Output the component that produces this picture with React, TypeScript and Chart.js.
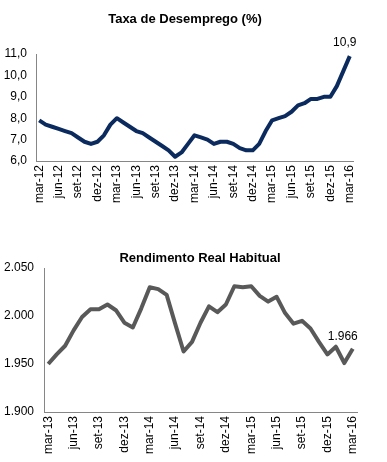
import React, { useEffect, useRef } from "react";
import { Chart, registerables } from "chart.js";

Chart.register(...registerables);

const FONT = '"Liberation Sans", Arial, Helvetica, sans-serif';

// ---- Taxa de Desemprego (%) ----
const desempregoMeses = [
  "mar-12", "abr-12", "mai-12", "jun-12", "jul-12", "ago-12", "set-12", "out-12", "nov-12", "dez-12",
  "jan-13", "fev-13", "mar-13", "abr-13", "mai-13", "jun-13", "jul-13", "ago-13", "set-13", "out-13",
  "nov-13", "dez-13", "jan-14", "fev-14", "mar-14", "abr-14", "mai-14", "jun-14", "jul-14", "ago-14",
  "set-14", "out-14", "nov-14", "dez-14", "jan-15", "fev-15", "mar-15", "abr-15", "mai-15", "jun-15",
  "jul-15", "ago-15", "set-15", "out-15", "nov-15", "dez-15", "jan-16", "fev-16", "mar-16",
];
const desempregoValores = [
  7.9, 7.7, 7.6, 7.5, 7.4, 7.3, 7.1, 6.9, 6.8, 6.9,
  7.2, 7.7, 8.0, 7.8, 7.6, 7.4, 7.3, 7.1, 6.9, 6.7,
  6.5, 6.2, 6.4, 6.8, 7.2, 7.1, 7.0, 6.8, 6.9, 6.9,
  6.8, 6.6, 6.5, 6.5, 6.8, 7.4, 7.9, 8.0, 8.1, 8.3,
  8.6, 8.7, 8.9, 8.9, 9.0, 9.0, 9.5, 10.2, 10.9,
];
const desempregoEixoMin = 6;
const desempregoEixoMax = 11;
const desempregoPasso = 1;

// ---- Rendimento Real Habitual ----
const rendimentoMeses = [
  "mar-13", "abr-13", "mai-13", "jun-13", "jul-13", "ago-13", "set-13", "out-13", "nov-13", "dez-13",
  "jan-14", "fev-14", "mar-14", "abr-14", "mai-14", "jun-14", "jul-14", "ago-14", "set-14", "out-14",
  "nov-14", "dez-14", "jan-15", "fev-15", "mar-15", "abr-15", "mai-15", "jun-15", "jul-15", "ago-15",
  "set-15", "out-15", "nov-15", "dez-15", "jan-16", "fev-16", "mar-16",
];
const rendimentoValores = [
  1950, 1960, 1969, 1985, 1999, 2007, 2007, 2012, 2006, 1993,
  1988, 2008, 2030, 2028, 2022, 1992, 1963, 1973, 1993, 2010,
  2004, 2012, 2031, 2030, 2031, 2021, 2015, 2020, 2003, 1992,
  1995, 1987, 1973, 1960, 1968, 1951, 1966,
];
const rendimentoEixoMin = 1900;
const rendimentoEixoMax = 2050;
const rendimentoPasso = 50;

const fmtDecimal = (v: number) => v.toFixed(1).replace(".", ",");
const fmtMilhar = (v: number) => {
  const s = Math.round(v).toString();
  return s.replace(/\B(?=(\d{3})+(?!\d))/g, ".");
};

const overlayPlugin = {
  id: "overlay",
  afterDraw(chart: any, _args: any, opts: any) {
    const ctx = chart.ctx as CanvasRenderingContext2D;
    ctx.save();
    ctx.fillStyle = "#000000";
    ctx.textAlign = "center";
    ctx.textBaseline = "middle";
    ctx.font = `bold 13px ${FONT}`;
    ctx.fillText(opts.title, opts.titleX, opts.titleY);
    const meta = chart.getDatasetMeta(0);
    const pt = meta.data[meta.data.length - 1];
    ctx.font = `12px ${FONT}`;
    ctx.fillText(opts.label, pt.x + opts.dx, pt.y + opts.dy);
    ctx.restore();
  },
};

type Cfg = {
  labels: string[];
  values: number[];
  color: string;
  min: number;
  max: number;
  step: number;
  fmt: (v: number) => string;
  yWidth: number;
  xHeight: number;
  padRight: number;
  padTop: number;
  yPad: number;
  title: string;
  titleX: number;
  titleY: number;
  label: string;
  dx: number;
  dy: number;
};

function LineChart({ cfg, top }: { cfg: Cfg; top: number }) {
  const ref = useRef<HTMLCanvasElement | null>(null);
  useEffect(() => {
    if (!ref.current) return;
    const chart = new Chart(ref.current, {
      type: "line",
      data: {
        labels: cfg.labels,
        datasets: [
          {
            data: cfg.values,
            borderColor: cfg.color,
            borderWidth: 4,
            pointRadius: 0,
            tension: 0,
            borderJoinStyle: "round",
            fill: false,
          },
        ],
      },
      options: {
        responsive: false,
        animation: false,
        devicePixelRatio: 1,
        layout: { padding: { left: 0, right: cfg.padRight, top: cfg.padTop, bottom: 0 } },
        plugins: {
          legend: { display: false },
          title: { display: false },
          tooltip: { enabled: false },
          overlay: {
            title: cfg.title,
            titleX: cfg.titleX,
            titleY: cfg.titleY,
            label: cfg.label,
            dx: cfg.dx,
            dy: cfg.dy,
          },
        } as any,
        scales: {
          x: {
            type: "category",
            offset: true,
            grid: { display: false, drawTicks: false },
            border: { display: true, color: "#868686", width: 1 },
            ticks: {
              autoSkip: false,
              maxRotation: 90,
              minRotation: 90,
              padding: 4,
              color: "#000000",
              font: { family: FONT, size: 12 },
              callback: (_v: any, i: number) => (i % 3 === 0 ? cfg.labels[i] : ""),
            },
            afterFit: (s: any) => {
              s.height = cfg.xHeight;
            },
          },
          y: {
            min: cfg.min,
            max: cfg.max,
            grid: { display: false, drawTicks: false },
            border: { display: true, color: "#868686", width: 1 },
            ticks: {
              stepSize: cfg.step,
              padding: cfg.yPad,
              color: "#000000",
              font: { family: FONT, size: 12 },
              callback: (v: any) => cfg.fmt(Number(v)),
            },
            afterFit: (s: any) => {
              s.width = cfg.yWidth;
            },
          },
        },
      },
      plugins: [overlayPlugin],
    });
    return () => chart.destroy();
  }, []);
  return (
    <canvas
      ref={ref}
      width={387}
      height={231}
      style={{ position: "absolute", left: 0, top, width: 387, height: 231, display: "block" }}
    />
  );
}

export default function App() {
  const topCfg: Cfg = {
    labels: desempregoMeses,
    values: desempregoValores,
    color: "#0B2A5E",
    min: desempregoEixoMin,
    max: desempregoEixoMax,
    step: desempregoPasso,
    fmt: fmtDecimal,
    yWidth: 36,
    xHeight: 70,
    padRight: 34,
    padTop: 54,
    yPad: 9,
    title: "Taxa de Desemprego (%)",
    titleX: 185,
    titleY: 19,
    label: fmtDecimal(desempregoValores[desempregoValores.length - 1]),
    dx: -5,
    dy: -13,
  };
  const botCfg: Cfg = {
    labels: rendimentoMeses,
    values: rendimentoValores,
    color: "#595959",
    min: rendimentoEixoMin,
    max: rendimentoEixoMax,
    step: rendimentoPasso,
    fmt: fmtMilhar,
    yWidth: 44,
    xHeight: 50,
    padRight: 30,
    padTop: 37,
    yPad: 10,
    title: "Rendimento Real Habitual",
    titleX: 200,
    titleY: 27,
    label: fmtMilhar(rendimentoValores[rendimentoValores.length - 1]),
    dx: -10,
    dy: -12,
  };
  return (
    <div style={{ position: "absolute", left: 0, top: 0, width: 387, height: 462, background: "#ffffff" }}>
      <LineChart cfg={topCfg} top={0} />
      <LineChart cfg={botCfg} top={231} />
    </div>
  );
}
